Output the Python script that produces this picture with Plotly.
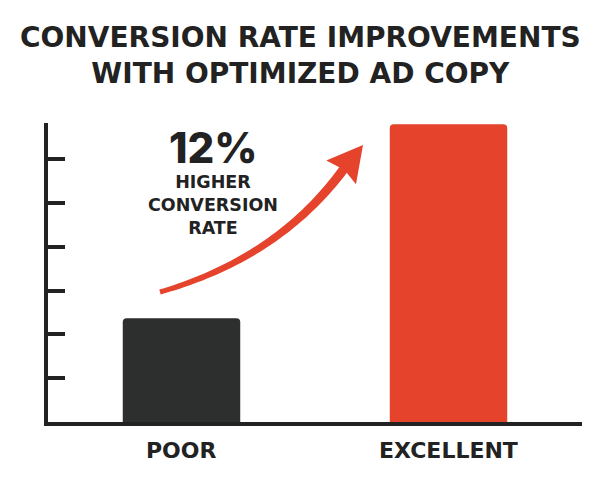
import numpy as np
import plotly.graph_objects as go

# data
categories = ['POOR', 'EXCELLENT']
values = [2.37, 6.8]
bar_colors = ['#2d2f2e', '#e5432b']
y_ticks = [1, 2, 3, 4, 5, 6]
callout_big = '12%'
callout_small = 'HIGHER<br>CONVERSION<br>RATE'
title_text = 'CONVERSION RATE IMPROVEMENTS<br>WITH OPTIMIZED AD COPY'

W, H = 599, 484
OFF = 8  # page body margin shifts the figure
L, R, T, B = 48 - OFF, 17 + OFF, 123 - OFF, 62 + OFF
y_max = 6.83
x_rng = [-0.5, 1.5]

ink = '#222222'
red = '#e5432b'
font_txt = 'DejaVu Sans'

pw = W - L - R
ph = H - T - B

# screen pixel -> data / paper helpers
def px_to_x(px):
    return x_rng[0] + (px - OFF - L) / pw * (x_rng[1] - x_rng[0])
def py_to_y(py):
    return (H - B - (py - OFF)) / ph * y_max
def py_to_paper(py):
    return (H - B - (py - OFF)) / ph
def px_to_paper(px):
    return (px - OFF - L) / pw

# curved arrow, tapered body + head
p0 = np.array([160.0, 292.0])
c = np.array([278.0, 258.0])
p2 = np.array([343.0, 170.0])
t = np.linspace(0, 1, 50)
pts = ((1 - t) ** 2)[:, None] * p0 + (2 * t * (1 - t))[:, None] * c + (t ** 2)[:, None] * p2
d = np.gradient(pts, axis=0)
n = np.stack([-d[:, 1], d[:, 0]], axis=1)
n = n / np.linalg.norm(n, axis=1)[:, None]
half = 2.5 + 2.2 * t
left = pts + n * half[:, None]
right = pts - n * half[:, None]
tip = np.array([363.0, 145.0])
dirv = tip - p2
dirv = dirv / np.linalg.norm(dirv)
perp = np.array([-dirv[1], dirv[0]])
head_a = p2 + perp * 19 - dirv * 3
head_b = p2 - perp * 19 - dirv * 3
poly = list(left) + [head_a, tip, head_b] + list(right[::-1])
path = 'M ' + ' L '.join('%f,%f' % (px_to_x(p[0]), py_to_y(p[1])) for p in poly) + ' Z'

fig = go.Figure()
fig.add_trace(go.Bar(
    x=[0, 1], y=values, marker=dict(color=bar_colors, line=dict(width=0)),
    width=0.44, hoverinfo='skip'))

fig.add_shape(type='path', path=path, xref='x', yref='y',
              fillcolor=red, line=dict(width=0), layer='above')

fig.add_annotation(x=px_to_x(213), y=py_to_y(147), xref='x', yref='y',
                   text=callout_big, showarrow=False,
                   font=dict(family='Inter', size=42, color=ink, weight=800))
fig.add_annotation(x=px_to_x(213), y=py_to_y(205), xref='x', yref='y',
                   text=callout_small, showarrow=False,
                   font=dict(family=font_txt, size=17.5, color=ink, weight='bold'))

# title
fig.add_annotation(x=px_to_paper(300), y=py_to_paper(56), xref='paper', yref='paper',
                   text=title_text, showarrow=False, xanchor='center', yanchor='middle',
                   font=dict(family=font_txt, size=28, color=ink, weight='bold'))

# category labels
for i, cat in enumerate(categories):
    fig.add_annotation(x=i, y=py_to_paper(450), xref='x', yref='paper',
                       text=cat, showarrow=False, yanchor='middle',
                       font=dict(family=font_txt, size=22, color=ink, weight='bold'))

fig.update_layout(
    width=W, height=H,
    margin=dict(l=L, r=R, t=T, b=B),
    paper_bgcolor='white', plot_bgcolor='white',
    showlegend=False,
    barcornerradius=4,
    xaxis=dict(range=x_rng, showticklabels=False,
               showline=True, linecolor=ink, linewidth=4, showgrid=False,
               zeroline=False, ticks=''),
    yaxis=dict(range=[0, y_max], tickvals=y_ticks, showticklabels=False,
               showline=True, linecolor=ink, linewidth=4, showgrid=False,
               zeroline=False, ticks='inside', ticklen=17, tickwidth=4,
               tickcolor=ink),
)

fig.write_html('out.html')
